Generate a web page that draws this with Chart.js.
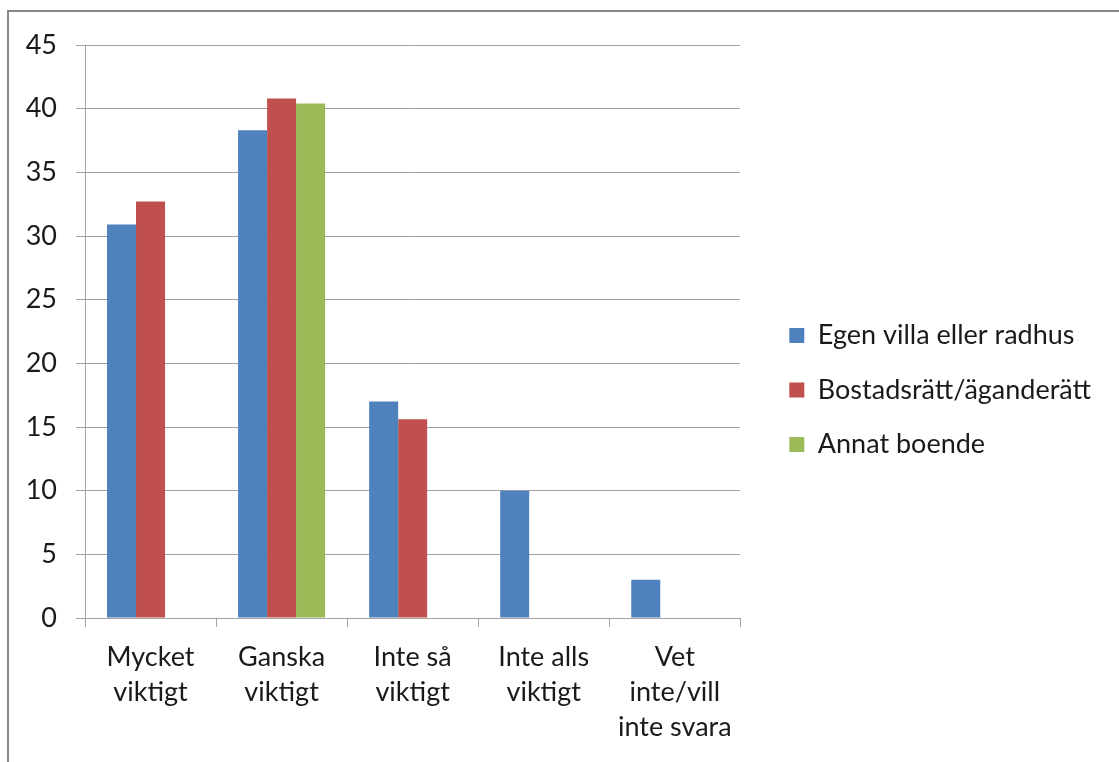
<!DOCTYPE html>
<html>
<head>
<meta charset="utf-8">
<script src="https://cdn.jsdelivr.net/npm/chart.js@4.4.1/dist/chart.umd.min.js"></script>
<style>
  html, body { margin: 0; padding: 0; background: #fff; overflow: hidden; }
  #frame { position: absolute; left: 7px; top: 10px; width: 1200px; height: 800px;
           border-left: 2px solid #888; border-top: 2px solid #888; }
  #wrap { position: absolute; left: 0; top: 0; width: 1119px; height: 762px; }
</style>
</head>
<body>
<div id="frame"></div>
<div id="wrap"><canvas id="c" width="1119" height="762"></canvas></div>
<script>
const categories = [
  ["Mycket", "viktigt"],
  ["Ganska", "viktigt"],
  ["Inte så", "viktigt"],
  ["Inte alls", "viktigt"],
  ["Vet", "inte/vill", "inte svara"]
];
const seriesNames = ["Egen villa eller radhus", "Bostadsrätt/äganderätt", "Annat boende"];
const egenVilla = [30.9, 38.3, 17.0, 10.0, 3.0];
const bostadsratt = [32.7, 40.8, 15.6, null, null];
const annatBoende = [null, 40.4, null, null, null];
const yMin = 0, yMax = 45, yStep = 5;

const FONT = "Lato, 'Open Sans', sans-serif";
const TEXT = "#1a1a1a";
const GRID = "#a3a3a3";

new Chart(document.getElementById('c'), {
  type: 'bar',
  data: {
    labels: categories,
    datasets: [
      { label: seriesNames[0], data: egenVilla, backgroundColor: '#4F81BD' },
      { label: seriesNames[1], data: bostadsratt, backgroundColor: '#C0504D' },
      { label: seriesNames[2], data: annatBoende, backgroundColor: '#9BBB59' }
    ]
  },
  options: {
    responsive: false,
    animation: false,
    devicePixelRatio: 1,
    categoryPercentage: 0.664,
    barPercentage: 1,
    layout: { padding: { left: 0, top: 45, right: 18, bottom: 0 } },
    plugins: {
      tooltip: { enabled: false },
      legend: {
        position: 'right',
        align: 'start',
        maxWidth: 420,
        title: { display: true, text: '', padding: { top: 239.5, bottom: 0 }, font: { size: 10, lineHeight: 1 } },
        labels: {
          boxWidth: 15, boxHeight: 15,
          padding: 27.5,
          color: TEXT,
          font: { family: FONT, size: 27 }
        }
      }
    },
    scales: {
      x: {
        grid: { display: true, drawOnChartArea: false, drawTicks: true, tickLength: 9, color: GRID, offset: true },
        border: { display: true, color: GRID, width: 1 },
        ticks: { color: TEXT, font: { family: FONT, size: 27, lineHeight: 1.3 }, padding: 13, maxRotation: 0, autoSkip: false },
        afterFit(s) { s.height = 144; }
      },
      y: {
        min: yMin, max: yMax,
        ticks: { stepSize: yStep, color: TEXT, font: { family: FONT, size: 27 }, padding: 19 },
        grid: { color: GRID, drawTicks: true, tickLength: 9 },
        border: { display: true, color: GRID },
        afterFit(s) { s.width = 85; }
      },
      gap: {
        position: 'right',
        display: true,
        grid: { display: false, drawTicks: false },
        border: { display: false },
        ticks: { display: false },
        afterFit(s) { s.width = 21.5; }
      }
    }
  }
});
</script>
</body>
</html>
